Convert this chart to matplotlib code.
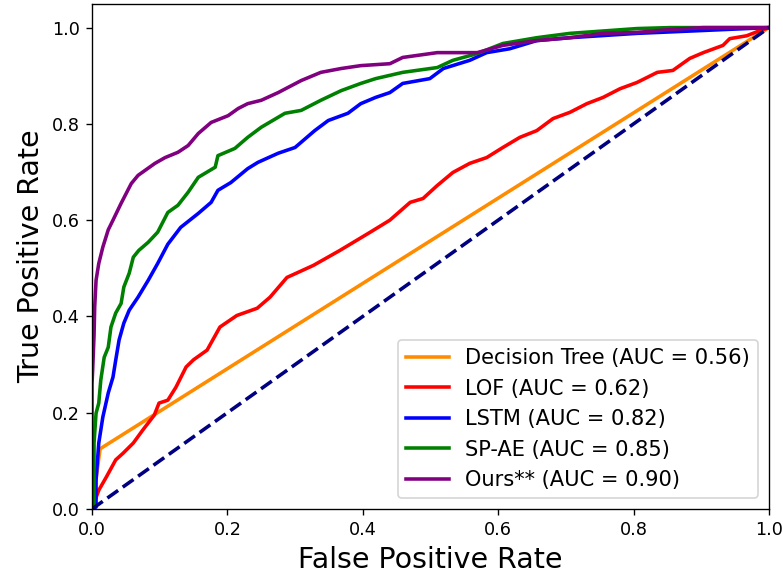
import numpy as np
import matplotlib
matplotlib.use("Agg")
import matplotlib.pyplot as plt

# ROC points
dt_fpr = [0.0, 0.012, 1.0]
dt_tpr = [0.0, 0.125, 1.0]

lof_fpr = [0.0, 0.003, 0.010, 0.021, 0.035, 0.046, 0.061, 0.075, 0.092, 0.099, 0.112, 0.124,
           0.139, 0.150, 0.170, 0.189, 0.214, 0.244, 0.263, 0.288, 0.327, 0.366, 0.411, 0.440,
           0.470, 0.489, 0.510, 0.533, 0.558, 0.583, 0.607, 0.632, 0.657, 0.681, 0.706, 0.731,
           0.755, 0.780, 0.805, 0.835, 0.858, 0.883, 0.903, 0.932, 0.942, 0.967, 0.987, 1.0]
lof_tpr = [0.0, 0.012, 0.039, 0.066, 0.102, 0.116, 0.137, 0.164, 0.195, 0.220, 0.226, 0.253,
           0.295, 0.310, 0.330, 0.378, 0.402, 0.417, 0.440, 0.481, 0.506, 0.537, 0.575, 0.600,
           0.637, 0.645, 0.672, 0.699, 0.718, 0.730, 0.751, 0.772, 0.786, 0.811, 0.824, 0.842,
           0.855, 0.873, 0.886, 0.907, 0.911, 0.936, 0.948, 0.963, 0.977, 0.983, 0.994, 1.0]

lstm_fpr = [0.0, 0.006, 0.006, 0.010, 0.016, 0.024, 0.031, 0.035, 0.040, 0.047, 0.055, 0.068,
            0.083, 0.097, 0.112, 0.131, 0.157, 0.176, 0.186, 0.205, 0.230, 0.245, 0.275, 0.300,
            0.329, 0.349, 0.378, 0.397, 0.419, 0.440, 0.459, 0.499, 0.519, 0.558, 0.583, 0.617,
            0.657, 0.706, 0.805, 0.903, 1.0]
lstm_tpr = [0.0, 0.004, 0.060, 0.137, 0.191, 0.241, 0.274, 0.309, 0.351, 0.386, 0.413, 0.440,
            0.475, 0.510, 0.550, 0.585, 0.614, 0.637, 0.662, 0.678, 0.707, 0.720, 0.739, 0.751,
            0.786, 0.807, 0.822, 0.842, 0.855, 0.865, 0.884, 0.894, 0.915, 0.932, 0.948, 0.956,
            0.973, 0.979, 0.988, 0.994, 1.0]

spae_fpr = [0.0, 0.003, 0.003, 0.006, 0.010, 0.013, 0.018, 0.024, 0.028, 0.035, 0.043, 0.047,
            0.055, 0.061, 0.069, 0.083, 0.097, 0.112, 0.127, 0.142, 0.157, 0.182, 0.186, 0.211,
            0.230, 0.250, 0.285, 0.309, 0.338, 0.368, 0.397, 0.419, 0.459, 0.510, 0.533, 0.569,
            0.607, 0.657, 0.706, 0.805, 0.854, 1.0]
spae_tpr = [0.0, 0.004, 0.137, 0.199, 0.220, 0.268, 0.315, 0.336, 0.378, 0.407, 0.427, 0.461,
            0.490, 0.523, 0.537, 0.554, 0.575, 0.616, 0.631, 0.658, 0.689, 0.710, 0.734, 0.749,
            0.772, 0.793, 0.822, 0.828, 0.849, 0.869, 0.884, 0.894, 0.907, 0.917, 0.932, 0.946,
            0.967, 0.979, 0.988, 0.998, 1.0, 1.0]

ours_fpr = [0.0, 0.0, 0.001, 0.003, 0.004, 0.006, 0.010, 0.016, 0.024, 0.031, 0.043, 0.058,
            0.068, 0.093, 0.108, 0.127, 0.142, 0.157, 0.176, 0.201, 0.216, 0.230, 0.250, 0.275,
            0.309, 0.338, 0.368, 0.397, 0.440, 0.459, 0.510, 0.569, 0.607, 0.657, 0.706, 0.755,
            0.805, 0.854, 0.903, 1.0]
ours_tpr = [0.0, 0.26, 0.29, 0.36, 0.42, 0.475, 0.51, 0.544, 0.58, 0.600, 0.635, 0.676,
            0.693, 0.718, 0.730, 0.741, 0.755, 0.780, 0.803, 0.817, 0.832, 0.842, 0.849, 0.865,
            0.890, 0.907, 0.915, 0.921, 0.925, 0.938, 0.948, 0.948, 0.963, 0.973, 0.979, 0.988,
            0.990, 0.996, 1.0, 1.0]

fig = plt.figure(figsize=(783 / 122, 578 / 122), dpi=122)
ax = fig.add_axes([0.1175, 0.1194, 0.8646, 0.8745])

lw = 2.1
ax.plot(dt_fpr, dt_tpr, color="darkorange", lw=lw, label="Decision Tree (AUC = 0.56)")
ax.plot(lof_fpr, lof_tpr, color="red", lw=lw, label="LOF (AUC = 0.62)")
ax.plot(lstm_fpr, lstm_tpr, color="blue", lw=lw, label="LSTM (AUC = 0.82)")
ax.plot(spae_fpr, spae_tpr, color="green", lw=lw, label="SP-AE (AUC = 0.85)")
ax.plot(ours_fpr, ours_tpr, color="purple", lw=lw, label="Ours** (AUC = 0.90)")
ax.plot([0, 1], [0, 1], color="navy", lw=lw, linestyle="--")

ax.set_xlim(0.0, 1.0)
ax.set_ylim(0.0, 1.05)
ax.tick_params(labelsize=10.4)
ax.set_xlabel("False Positive Rate", fontsize=16.8)
ax.set_ylabel("True Positive Rate", fontsize=16.8)
ax.legend(loc="lower right", fontsize=12.4)

fig.savefig("out.png", dpi=122)
